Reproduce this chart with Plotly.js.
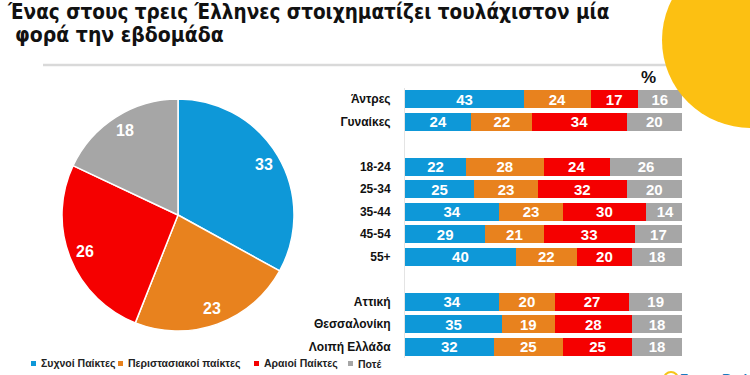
<!DOCTYPE html>
<html>
<head>
<meta charset="utf-8">
<script src="https://cdn.plot.ly/plotly-3.0.1.min.js"></script>
<style>html,body{margin:0;padding:0;background:#fff;}#chart{width:750px;height:375px;}</style>
</head>
<body>
<div id="chart"></div>
<script>
// ---- data ----
const titleLines = ['Ένας στους τρεις Έλληνες στοιχηματίζει τουλάχιστον μία', 'φορά την εβδομάδα'];
const seriesNames = ['Συχνοί Παίκτες', 'Περιστασιακοί παίκτες', 'Αραιοί Παίκτες', 'Ποτέ'];
const seriesColors = ['#0E98D8', '#E8821E', '#F50000', '#A6A6A6'];
const pieValues = [33, 23, 26, 18];
const groups = [
  ['Άντρες', 'Γυναίκες'],
  ['18-24', '25-34', '35-44', '45-54', '55+'],
  ['Αττική', 'Θεσσαλονίκη', 'Λοιπή Ελλάδα']
];
const frequent   = [43, 24, 22, 25, 34, 29, 40, 34, 35, 32];
const occasional = [24, 22, 28, 23, 23, 21, 22, 20, 19, 25];
const rare       = [17, 34, 24, 32, 30, 33, 20, 27, 28, 25];
const never      = [16, 20, 26, 20, 14, 17, 18, 19, 18, 18];
const barSeries = [frequent, occasional, rare, never];

// ---- layout helpers ----
const COND = 'DejaVu Sans Condensed, Liberation Sans, Arial, sans-serif';
const WIDE = 'Liberation Sans, Arial, sans-serif';
const W = 750, H = 375;
const px = v => v / W, py = v => (H - v) / H;
const b = t => '<b>' + t + '</b>';

const categories = [];
const slots = [];
let s = 0;
groups.forEach(g => {
  g.forEach(c => { categories.push(c); slots.push(s); s++; });
  s++; // spacer between groups
});
const maxSlot = s - 2;

// pie geometry (domain)
const pieDom = {x: [62, 294], y: [99, 331]};
const pieCx = (pieDom.x[0] + pieDom.x[1]) / 2, pieCy = (pieDom.y[0] + pieDom.y[1]) / 2;
const pieR = (pieDom.x[1] - pieDom.x[0]) / 2;

const traces = [];
traces.push({
  type: 'pie',
  values: pieValues,
  labels: seriesNames,
  marker: {colors: seriesColors, line: {color: '#ffffff', width: 1.5}},
  sort: false,
  direction: 'clockwise',
  rotation: 0,
  textinfo: 'none',
  domain: {x: [px(pieDom.x[0]), px(pieDom.x[1])], y: [py(pieDom.y[1]), py(pieDom.y[0])]},
  showlegend: false,
  hoverinfo: 'skip'
});
barSeries.forEach((vals, i) => {
  traces.push({
    type: 'bar',
    orientation: 'h',
    x: vals,
    y: slots,
    name: seriesNames[i],
    marker: {color: seriesColors[i], line: {width: 0}},
    width: 0.8,
    text: vals.map(v => b(v)),
    textposition: 'inside',
    insidetextanchor: 'middle',
    textangle: 0,
    constraintext: 'none',
    textfont: {color: '#ffffff', size: 15, family: WIDE},
    xaxis: 'x', yaxis: 'y',
    showlegend: false,
    hoverinfo: 'skip'
  });
});

const annotations = [];
// pie value labels placed near the rim, angle derived from the values
const total = pieValues.reduce((a, c) => a + c, 0);
let cum = 0;
pieValues.forEach(v => {
  const mid = (cum + v / 2) / total * 2 * Math.PI;
  cum += v;
  const rr = pieR * 0.86;
  annotations.push({
    xref: 'paper', yref: 'paper',
    x: px(pieCx + rr * Math.sin(mid)), y: py(pieCy - rr * Math.cos(mid)),
    xanchor: 'center', yanchor: 'middle', showarrow: false,
    text: b(v),
    font: {family: WIDE, size: 16, color: '#ffffff'}
  });
});

// legend
const legendX = [31, 118, 254, 348];
const shapes = [];
seriesNames.forEach((n, i) => {
  shapes.push({type: 'rect', xref: 'paper', yref: 'paper',
    x0: px(legendX[i]), x1: px(legendX[i] + 5), y0: py(366), y1: py(361),
    fillcolor: seriesColors[i], line: {width: 0}});
  annotations.push({
    xref: 'paper', yref: 'paper',
    x: px(legendX[i] + 8), y: py(363.5),
    xanchor: 'left', yanchor: 'middle', showarrow: false,
    text: b(n),
    font: {family: WIDE, size: 10.5, color: '#222222'}
  });
});
annotations.push({
  xref: 'paper', yref: 'paper', x: px(648), y: py(78),
  xanchor: 'center', yanchor: 'middle', showarrow: false,
  text: b('%'), font: {family: WIDE, size: 17, color: '#111111'}
});
// second title line
annotations.push({
  xref: 'paper', yref: 'paper', x: px(13), y: py(35),
  xanchor: 'left', yanchor: 'middle', showarrow: false,
  text: b(titleLines[1]), font: {family: COND, size: 21, color: '#111111'}
});
// logo fragment at bottom right
annotations.push({
  xref: 'paper', yref: 'paper', x: px(678), y: py(378),
  xanchor: 'left', yanchor: 'middle', showarrow: false,
  text: b('Focus Bari'), font: {family: WIDE, size: 13, color: '#1A7BC0'}
});

shapes.push(
  {type: 'line', xref: 'paper', yref: 'paper', x0: px(43), x1: px(700), y0: py(65), y1: py(65),
   line: {color: '#d9d9d9', width: 2.5}, layer: 'below'},
  {type: 'circle', xref: 'paper', yref: 'paper', x0: px(662), x1: px(840), y0: py(128), y1: py(-48),
   fillcolor: '#FCC012', line: {width: 0}, layer: 'above'},
  {type: 'circle', xref: 'paper', yref: 'paper', x0: px(664), x1: px(678), y0: py(386), y1: py(372),
   fillcolor: 'rgba(0,0,0,0)', line: {color: '#F5C518', width: 2}}
);

const layout = {
  width: W, height: H,
  margin: {l: 0, r: 0, t: 0, b: 0},
  paper_bgcolor: '#ffffff', plot_bgcolor: 'rgba(0,0,0,0)',
  title: {
    text: b(titleLines[0]),
    x: px(8), xanchor: 'left',
    y: py(11.5), yanchor: 'middle',
    font: {family: COND, size: 20.5, color: '#111111'}
  },
  barmode: 'stack',
  bargap: 0,
  xaxis: {
    domain: [px(405), px(682)],
    range: [0, 100],
    showgrid: false, zeroline: false, showticklabels: false, showline: false, fixedrange: true
  },
  yaxis: {
    domain: [py(358), py(88)],
    range: [maxSlot + 0.5, -0.5],
    tickvals: slots,
    ticktext: categories.map(c => b(c)),
    ticks: '',
    ticklabelstandoff: 11,
    tickfont: {family: WIDE, size: 12, color: '#111111'},
    showgrid: false, zeroline: false,
    showline: true, linecolor: '#e4e4e4', linewidth: 1,
    fixedrange: true
  },
  shapes: shapes,
  annotations: annotations,
  showlegend: false
};

Plotly.newPlot('chart', traces, layout, {displayModeBar: false, staticPlot: true});
</script>
</body>
</html>
